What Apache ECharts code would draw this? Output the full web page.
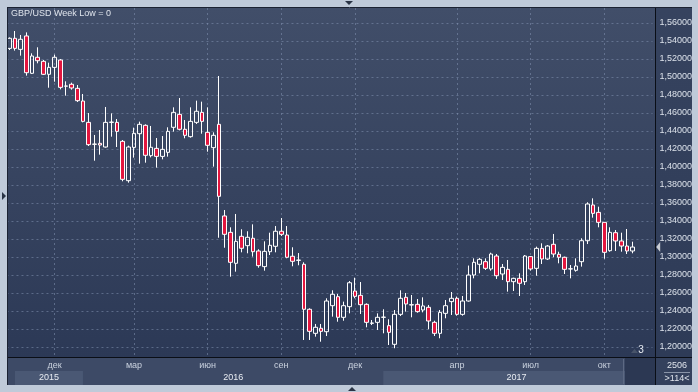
<!DOCTYPE html>
<html><head><meta charset="utf-8">
<script src="https://cdn.jsdelivr.net/npm/echarts@6/dist/echarts.min.js"></script>
<style>html,body{margin:0;padding:0;background:#bfcad9;overflow:hidden}#c{width:698px;height:392px}</style>
</head><body><div id="c"></div>
<script>
const openP = [1.5318,1.5430,1.5307,1.5456,1.5041,1.5219,1.5174,1.5030,1.5107,1.5189,
1.4898,1.4919,1.4874,1.4733,1.4496,1.4252,1.4263,1.4222,1.4496,1.4496,
1.4285,1.3848,1.4218,1.4370,1.4463,1.4126,1.4207,1.4118,1.4163,1.4441,
1.4585,1.4419,1.4337,1.4496,1.4607,1.4385,1.4215,1.4474,1.3456,1.3274,
1.2930,1.3230,1.3126,1.3208,1.3067,1.2893,1.3059,1.3119,1.3286,1.3244,
1.3008,1.2963,1.2919,1.2419,1.2152,1.2208,1.2170,1.2459,1.2559,1.2330,
1.2448,1.2622,1.2574,1.2474,1.2263,1.2274,1.2330,1.2237,1.2030,1.2363,
1.2552,1.2467,1.2474,1.2411,1.2441,1.2274,1.2152,1.2374,1.2504,1.2541,
1.2363,1.2511,1.2800,1.2919,1.2948,1.2867,1.3011,1.2811,1.2863,1.2726,
1.2763,1.2726,1.3004,1.2874,1.3096,1.2978,1.3141,1.3030,1.2997,1.2867,
1.2852,1.2948,1.3181,1.3578,1.3496,1.3385,1.3070,1.3270,1.3178,1.3122,
1.3067];
const closeP = [1.5430,1.5318,1.5419,1.5048,1.5233,1.5181,1.5030,1.5107,1.5219,1.4885,
1.4900,1.4878,1.4737,1.4507,1.4248,1.4255,1.4244,1.4496,1.4499,1.4396,
1.3863,1.4222,1.4374,1.4474,1.4130,1.4219,1.4118,1.4196,1.4396,1.4607,
1.4419,1.4352,1.4507,1.4619,1.4507,1.4241,1.4352,1.3674,1.3252,1.2941,
1.3174,1.3097,1.3219,1.3059,1.2904,1.3063,1.3130,1.3286,1.3252,1.2997,
1.2952,1.2966,1.2419,1.2174,1.2219,1.2174,1.2511,1.2586,1.2330,1.2459,
1.2714,1.2563,1.2470,1.2274,1.2267,1.2330,1.2332,1.2163,1.2363,1.2541,
1.2478,1.2470,1.2393,1.2456,1.2289,1.2152,1.2385,1.2459,1.2541,1.2363,
1.2511,1.2800,1.2941,1.2974,1.2874,1.3033,1.2792,1.2885,1.2726,1.2763,
1.2708,1.3011,1.2867,1.3096,1.2978,1.3122,1.3033,1.2997,1.2863,1.2869,
1.2900,1.3181,1.3589,1.3485,1.3385,1.3052,1.3274,1.3178,1.3122,1.3067,
1.31105];
const lowP = [1.5300,1.5293,1.5237,1.5015,1.5033,1.5152,1.5022,1.4881,1.4948,1.4863,
1.4793,1.4859,1.4722,1.4496,1.4233,1.4070,1.4137,1.4215,1.4337,1.4222,
1.3841,1.3826,1.4104,1.4037,1.4048,1.4107,1.3993,1.4085,1.4115,1.4393,
1.4407,1.4319,1.4326,1.4478,1.4370,1.4170,1.4004,1.3214,1.3103,1.2781,
1.2837,1.3052,1.3041,1.3004,1.2881,1.2848,1.3022,1.3052,1.3233,1.2986,
1.2897,1.2908,1.2078,1.2078,1.2115,1.2059,1.2122,1.2337,1.2281,1.2292,
1.2374,1.2541,1.2367,1.2219,1.2244,1.2189,1.2152,1.2022,1.1986,1.2344,
1.2393,1.2330,1.2381,1.2385,1.2197,1.2122,1.2097,1.2319,1.2356,1.2348,
1.2348,1.2504,1.2763,1.2819,1.2856,1.2848,1.2756,1.2744,1.2615,1.2622,
1.2567,1.2689,1.2848,1.2792,1.2922,1.2967,1.2997,1.2930,1.2811,1.2763,
1.2837,1.2893,1.3144,1.3437,1.3330,1.2981,1.3059,1.3067,1.3059,1.3033,
1.3041];
const highP = [1.5440,1.5511,1.5467,1.5496,1.5263,1.5330,1.5189,1.5159,1.5248,1.5200,
1.4952,1.4937,1.4911,1.4811,1.4600,1.4356,1.4411,1.4667,1.4596,1.4533,
1.4300,1.4237,1.4437,1.4504,1.4474,1.4456,1.4322,1.4344,1.4441,1.4663,
1.4767,1.4522,1.4663,1.4737,1.4726,1.4663,1.4385,1.5011,1.3522,1.3330,
1.3478,1.3308,1.3286,1.3363,1.3086,1.3174,1.3270,1.3344,1.3433,1.3344,
1.3108,1.3044,1.2941,1.2430,1.2256,1.2256,1.2541,1.2630,1.2589,1.2504,
1.2733,1.2770,1.2722,1.2485,1.2300,1.2374,1.2419,1.2308,1.2411,1.2630,
1.2600,1.2578,1.2533,1.2552,1.2467,1.2292,1.2411,1.2522,1.2611,1.2560,
1.2567,1.2905,1.2985,1.2990,1.2985,1.3048,1.3033,1.2922,1.2967,1.2770,
1.2819,1.3022,1.3011,1.3115,1.3152,1.3133,1.3256,1.3059,1.3004,1.2911,
1.2985,1.3208,1.3608,1.3652,1.3559,1.3385,1.3330,1.3300,1.3270,1.3311,
1.3170];

const slotCount = 114;                       // visible bar slots
const categories = Array.from({length: slotCount}, (_, i) => String(i));
const monthIdx = [8, 22, 35, 48, 61, 79, 92, 105];
const monthNames = ['дек','мар','июн','сен','дек','апр','июл','окт'];
const yearNames = ['2015','2016','2017'];
const yearStart = [1, 13, 66];
const yearEnd = [13, 66, 113];
const yearFill = ['#4a5874', 'rgba(0,0,0,0)', '#4a5874'];
const titleText = 'GBP/USD Week Low = 0';
const cornerTop = '2506', cornerBottom = '>114<', pageMark = '3';

const candles = openP.map((o, i) => [o, closeP[i], lowP[i], highP[i]]);
const lastPrice = closeP[closeP.length - 1];
const fmt = v => v.toFixed(5).replace('.', ',');
const FONT = '"Liberation Sans", Arial, sans-serif';

const BAND = 5.667;
const G0L = 6.47;
const gridW = BAND * slotCount;

const chart = echarts.init(document.getElementById('c'), null, {renderer: 'canvas'});
chart.setOption({
  animation: false,
  backgroundColor: '#bfcad9',
  textStyle: {fontFamily: FONT},
  title: {text: titleText, left: 11, top: 9, padding: 0,
    textStyle: {color: '#dfe4ec', fontSize: 9, fontWeight: 'normal', fontFamily: FONT}},
  grid: [
    {left: G0L, top: 23, width: gridW, height: 324},
    {left: G0L + BAND / 2, top: 8, width: BAND * (slotCount - 1), height: 349},
    {left: G0L + BAND / 2, top: 371, width: BAND * (slotCount - 1), height: 14}
  ],
  xAxis: [
    {type: 'category', gridIndex: 0, data: categories, boundaryGap: true,
     axisLine: {show: false}, axisTick: {show: false}, axisLabel: {show: false}, splitLine: {show: false}},
    {type: 'category', gridIndex: 1, data: categories, boundaryGap: false, position: 'bottom',
     axisLine: {show: false}, axisTick: {show: false},
     axisLabel: {show: true, interval: (i) => monthIdx.includes(i), margin: 4,
       formatter: (v, i) => monthNames[monthIdx.indexOf(i)] || '',
       color: '#c9d1de', fontSize: 9, fontFamily: FONT},
     splitLine: {show: true, interval: (i) => monthIdx.includes(i),
       lineStyle: {color: 'rgba(130,146,176,0.55)', type: [2, 3], width: 1}}},
    {type: 'category', gridIndex: 2, data: categories, boundaryGap: false, show: false}
  ],
  yAxis: [
    {type: 'value', gridIndex: 0, min: 1.2, max: 1.56, interval: 0.02, position: 'right', offset: 3,
     axisLine: {show: false}, axisTick: {show: false},
     axisLabel: {formatter: fmt, color: '#dbe1ea', fontSize: 9, margin: 4, fontFamily: FONT},
     splitLine: {show: true, lineStyle: {color: 'rgba(130,146,176,0.55)', type: [2, 3], width: 1}}},
    {type: 'value', gridIndex: 1, show: false, min: 0, max: 1},
    {type: 'value', gridIndex: 2, show: false, min: 0, max: 1}
  ],
  series: [
    {type: 'candlestick', name: 'GBP/USD', xAxisIndex: 0, yAxisIndex: 0, data: candles,
     barWidth: 4, clip: false, silent: true,
     itemStyle: {color: 'rgba(0,0,0,0)', color0: '#e3163f', borderColor: '#ffffff', borderColor0: '#ffffff', borderWidth: 1},
     markLine: {silent: true, symbol: ['none', 'none'], animation: false,
       lineStyle: {opacity: 0},
       label: {show: true, position: 'end', distance: 6, formatter: p => fmt(p.value),
         backgroundColor: '#c9cdd4', color: '#1a2030', fontSize: 9, padding: [2, 2, 1, 2], fontFamily: FONT},
       data: [{yAxis: lastPrice}]},
     markPoint: {silent: true, animation: false, symbol: 'triangle', symbolRotate: 90,
       symbolSize: [10, 4], symbolOffset: [8.5, 0], itemStyle: {color: '#c9cdd4'}, label: {show: false},
       data: [{coord: [slotCount - 1, lastPrice]}]}
    },
    {type: 'line', name: 'years', xAxisIndex: 2, yAxisIndex: 2, data: [], silent: true,
     markArea: {silent: true, animation: false,
       label: {show: true, position: 'inside', color: '#e8ecf2', fontSize: 9, fontFamily: FONT},
       data: yearNames.map((n, k) => [
         {name: n, xAxis: yearStart[k], itemStyle: {color: yearFill[k]}},
         {xAxis: yearEnd[k]}])}
    }
  ],
  graphic: [
    {type: 'rect', z: -10, silent: true, shape: {x: 8, y: 8, width: 647, height: 349},
     style: {fill: new echarts.graphic.LinearGradient(0, 0, 0, 1, [{offset: 0, color: '#414e69'}, {offset: 1, color: '#2c3956'}])}},
    {type: 'rect', z: -10, silent: true, shape: {x: 656, y: 8, width: 36, height: 349},
     style: {fill: new echarts.graphic.LinearGradient(0, 0, 0, 1, [{offset: 0, color: '#36435f'}, {offset: 1, color: '#2e3b57'}])}},
    {type: 'rect', z: -10, silent: true, shape: {x: 8, y: 358, width: 647, height: 27}, style: {fill: '#3d4a66'}},
    {type: 'rect', z: -10, silent: true, shape: {x: 656, y: 358, width: 36, height: 27}, style: {fill: '#34415d'}},
    {type: 'rect', z: 50, silent: true, shape: {x: 625, y: 358, width: 30, height: 27}, style: {fill: '#2c3853'}},
    {type: 'line', z: 50, silent: true, shape: {x1: 623.5, y1: 359, x2: 623.5, y2: 384}, style: {stroke: '#5d6983', lineWidth: 1}},
    {type: 'rect', z: 100, silent: true, shape: {x: 0, y: 0, width: 7, height: 392}, style: {fill: '#bfcad9'}},
    {type: 'line', z: 100, silent: true, shape: {x1: 7.5, y1: 7, x2: 7.5, y2: 385}, style: {stroke: '#1b2232', lineWidth: 1}},
    {type: 'line', z: 100, silent: true, shape: {x1: 7, y1: 7.5, x2: 692, y2: 7.5}, style: {stroke: '#1b2232', lineWidth: 1}},
    {type: 'line', z: 100, silent: true, shape: {x1: 655.5, y1: 8, x2: 655.5, y2: 385}, style: {stroke: '#0a0e16', lineWidth: 1}},
    {type: 'line', z: 100, silent: true, shape: {x1: 8, y1: 357.5, x2: 692, y2: 357.5}, style: {stroke: '#0a0e16', lineWidth: 1}},
    {type: 'polygon', z: 100, silent: true, shape: {points: [[345, 1], [353, 1], [349, 5]]}, style: {fill: '#2a3446'}},
    {type: 'polygon', z: 100, silent: true, shape: {points: [[348, 391], [356, 391], [352, 387]]}, style: {fill: '#2a3446'}},
    {type: 'polygon', z: 100, silent: true, shape: {points: [[2, 192], [2, 200], [6, 196]]}, style: {fill: '#2a3446'}},
    {type: 'polygon', z: 100, silent: true, shape: {points: [[631, 353], [638, 353], [634.5, 349]]}, style: {fill: '#48546a'}},
    {type: 'text', z: 100, silent: true, style: {x: 641, y: 350, text: pageMark, fill: '#e6eaf0', font: '10px ' + FONT, textAlign: 'center', textVerticalAlign: 'middle'}},
    {type: 'text', z: 100, silent: true, style: {x: 677, y: 366, text: cornerTop, fill: '#dfe4ec', font: '9px ' + FONT, textAlign: 'center', textVerticalAlign: 'middle'}},
    {type: 'line', z: 100, silent: true, shape: {x1: 664, y1: 372.5, x2: 690, y2: 372.5}, style: {stroke: '#8994a8', lineWidth: 1}},
    {type: 'text', z: 100, silent: true, style: {x: 677, y: 379, text: cornerBottom, fill: '#dfe4ec', font: '9px ' + FONT, textAlign: 'center', textVerticalAlign: 'middle'}}
  ]
});
</script></body></html>
